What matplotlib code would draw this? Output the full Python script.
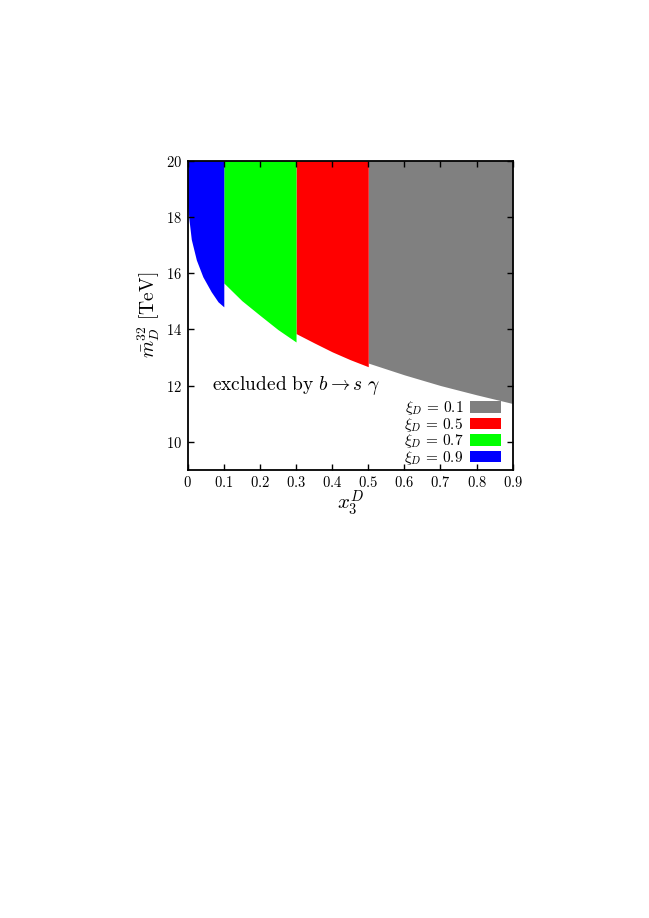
import matplotlib
matplotlib.use("Agg")
import matplotlib.pyplot as plt
from matplotlib.patches import Patch
from matplotlib.ticker import FuncFormatter, MultipleLocator

plt.rcParams['mathtext.fontset'] = 'cm'
plt.rcParams['font.family'] = ['DejaVu Serif']

# lower edge of each allowed region
x_09 = [0.0, 0.0036, 0.010, 0.024, 0.042, 0.065, 0.084, 0.1]
y_09 = [18.4, 17.9, 17.2, 16.47, 15.87, 15.34, 14.98, 14.8]
x_07 = [0.1, 0.15, 0.2, 0.25, 0.3]
y_07 = [15.65, 15.02, 14.5, 13.99, 13.55]
x_05 = [0.3, 0.35, 0.4, 0.45, 0.5]
y_05 = [13.85, 13.52, 13.2, 12.92, 12.67]
x_01 = [0.5, 0.6, 0.7, 0.8, 0.9]
y_01 = [12.8, 12.38, 12.0, 11.67, 11.36]

labels = [r'$\xi_D\, =\, 0.1$', r'$\xi_D\, =\, 0.5$',
          r'$\xi_D\, =\, 0.7$', r'$\xi_D\, =\, 0.9$']
colors = ['#808080', '#ff0000', '#00ff00', '#0000ff']

fig = plt.figure(figsize=(6.49, 9.18), dpi=100)
ax = fig.add_axes([0.2892, 0.4882, 0.5008, 0.3367])

ytop = 20
for xs, ys, c in [(x_01, y_01, colors[0]), (x_05, y_05, colors[1]),
                  (x_07, y_07, colors[2]), (x_09, y_09, colors[3])]:
    ax.fill_between(xs, ys, ytop, color=c, linewidth=0)

ax.set_xlim(0, 0.9)
ax.set_ylim(9, 20)
ax.xaxis.set_major_locator(MultipleLocator(0.1))
ax.yaxis.set_major_locator(MultipleLocator(2))

def fmt(v, pos):
    s = '%g' % round(v, 2)
    return '$' + s + '$'

ax.xaxis.set_major_formatter(FuncFormatter(fmt))
ax.yaxis.set_major_formatter(FuncFormatter(fmt))
ax.tick_params(direction='in', top=True, right=True, length=4, width=1,
               labelsize=10.5, pad=4)
for sp in ax.spines.values():
    sp.set_linewidth(1.3)

ax.set_xlabel(r'$x_3^D$', fontsize=15, labelpad=-1)
ax.set_ylabel(r'$\bar{m}_D^{32}\ [\mathrm{TeV}]$', fontsize=14, labelpad=3)

ax.text(0.067, 12.0, r'$\mathrm{excluded\ by}\ b \to s\ \gamma$',
        fontsize=14, va='center', ha='left')

handles = [Patch(color=c, linewidth=0) for c in colors]
leg = ax.legend(handles, labels, loc='lower right', frameon=False,
                markerfirst=False, fontsize=11, handlelength=2.05,
                handleheight=0.75, labelspacing=-0.1, handletextpad=0.45,
                borderaxespad=0, borderpad=0, bbox_to_anchor=(0.965, 0.01))

fig.savefig('out.png', dpi=100)
